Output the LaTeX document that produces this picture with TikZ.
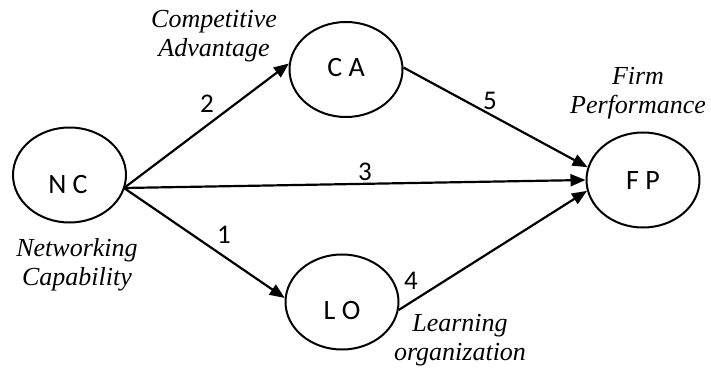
\documentclass[tikz,border=0pt]{standalone}
\usepackage{fontspec}
\setmainfont{Liberation Serif}
\newfontfamily\carlito{Carlito}
\usetikzlibrary{arrows.meta,shapes.geometric}
\begin{document}
\begin{tikzpicture}[x=1pt,y=-1pt,
  oval/.style={draw, line width=2pt, ellipse, minimum width=113pt, minimum height=95pt, inner sep=0pt},
  abbr/.style={font=\carlito\fontsize{28}{32}\selectfont, inner sep=0pt},
  num/.style={font=\carlito\fontsize{27}{32}\selectfont, inner sep=0pt},
  desc/.style={font=\itshape\fontsize{26}{29}\selectfont, align=center, inner sep=0pt},
  arr/.style={line width=2.2pt, -{Triangle[length=15pt,width=12pt]}}]
\useasboundingbox (0,0) rectangle (711,371);
% ellipses
\node[oval] (NC) at (69.5,175) {};
\node[oval] (CA) at (346,69.5) {};
\node[oval] (FP) at (643,180) {};
\node[oval] (LO) at (342,302) {};
% abbreviations
\node[abbr] (tNC) at (68,185) {N C};
\node[abbr] (tCA) at (346,68) {C A};
\node[abbr] (tFP) at (643,181) {F P};
\node[abbr] (tLO) at (342,311) {L O};
% descriptions
\node[desc] (dCA) at (214,36) {Competitive\\Advantage};
\node[desc] (dNC) at (77,265) {Networking\\Capability};
\node[desc] (dFP) at (638,93) {Firm\\Performance};
\node[desc] (dLO) at (460,340) {Learning\\organization};
% connectors
\coordinate (s) at (124,188);
\draw[arr] (s) -- (CA.174);
\draw[arr] (s) -- (FP.180);
\draw[arr] (s) -- (LO.176);
\draw[arr] (CA.2) -- (FP.167);
\draw[arr] (LO.352) -- (FP.191);
% numbers
\node[num] (n2) at (207,104) {2};
\node[num] (n1) at (224,235) {1};
\node[num] (n3) at (365,172) {3};
\node[num] (n5) at (490,101) {5};
\node[num] (n4) at (411,281) {4};
\end{tikzpicture}
\end{document}
